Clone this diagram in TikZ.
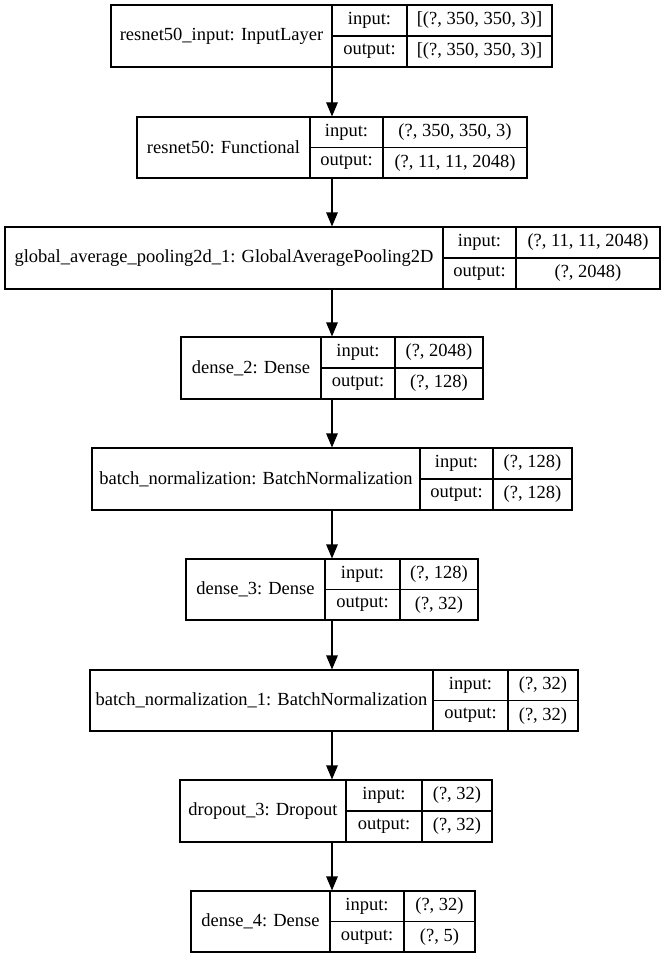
\documentclass[tikz,border=0pt]{standalone}
\usepackage{fontspec}
\setmainfont{Liberation Serif}
\usetikzlibrary{arrows.meta,fit}
\begin{document}
\begin{tikzpicture}[x=1pt,y=-1pt,
  recbox/.style={draw=black,line width=1.1pt,inner sep=0pt,rectangle},
  cell/.style={inner sep=0pt,font=\fontsize{18.5}{20}\selectfont},
  grid/.style={draw=black,line width=1.1pt},
  arr/.style={draw=black,line width=1.1pt,-{Triangle[width=11.5pt,length=14pt]}}]
\useasboundingbox[fill=white] (0,0) rectangle (663,955);
% each layer: name / left / divider 1 / divider 2 / right / top / bottom / label / input / output
\foreach \n/\l/\a/\b/\r/\t/\bt/\lab/\inp/\outp in {
  L1/111/332/407/552/5/67/{resnet50\_input: InputLayer}/{[(?, 350, 350, 3)]}/{[(?, 350, 350, 3)]},
  L2/137/310/383/527/117/178/{resnet50: Functional}/{(?, 350, 350, 3)}/{(?, 11, 11, 2048)},
  L3/5/443/516/660/227/289/{global\_average\_pooling2d\_1: GlobalAveragePooling2D}/{(?, 11, 11, 2048)}/{(?, 2048)},
  L4/181/321/395/483/337/399/{dense\_2: Dense}/{(?, 2048)}/{(?, 128)},
  L5/92/420/493/572/448/510/{batch\_normalization: BatchNormalization}/{(?, 128)}/{(?, 128)},
  L6/186/325/400/478/559/620/{dense\_3: Dense}/{(?, 128)}/{(?, 32)},
  L7/90/433/508/578/670/731/{batch\_normalization\_1: BatchNormalization}/{(?, 32)}/{(?, 32)},
  L8/180/346/422/492/780/842/{dropout\_3: Dropout}/{(?, 32)}/{(?, 32)},
  L9/191/330/404/475/891/952/{dense\_4: Dense}/{(?, 32)}/{(?, 5)}}
{
  \node[recbox,fit={(\l,\t) (\r,\bt)}] (\n) {};
  \draw[grid] (\a,\t) -- (\a,\bt) (\b,\t) -- (\b,\bt) (\a,{(\t+\bt)/2}) -- (\r,{(\t+\bt)/2});
  \node[cell] (\n-lab) at ({(\l+\a)/2},{(\t+\bt)/2}) {\lab};
  \node[cell] (\n-ik) at ({(\a+\b)/2},{(3*\t+\bt)/4}) {input:};
  \node[cell] (\n-ok) at ({(\a+\b)/2},{(\t+3*\bt)/4}) {output:};
  \node[cell] (\n-iv) at ({(\b+\r)/2},{(3*\t+\bt)/4}) {\inp};
  \node[cell] (\n-ov) at ({(\b+\r)/2},{(\t+3*\bt)/4}) {\outp};
}
% the flow runs down one vertical line
\coordinate (ax) at (332,0);
\foreach \u/\v in {L1/L2,L2/L3,L3/L4,L4/L5,L5/L6,L6/L7,L7/L8,L8/L9}
  \draw[arr] (\u.south -| ax) -- (\v.north -| ax);
\end{tikzpicture}
\end{document}
